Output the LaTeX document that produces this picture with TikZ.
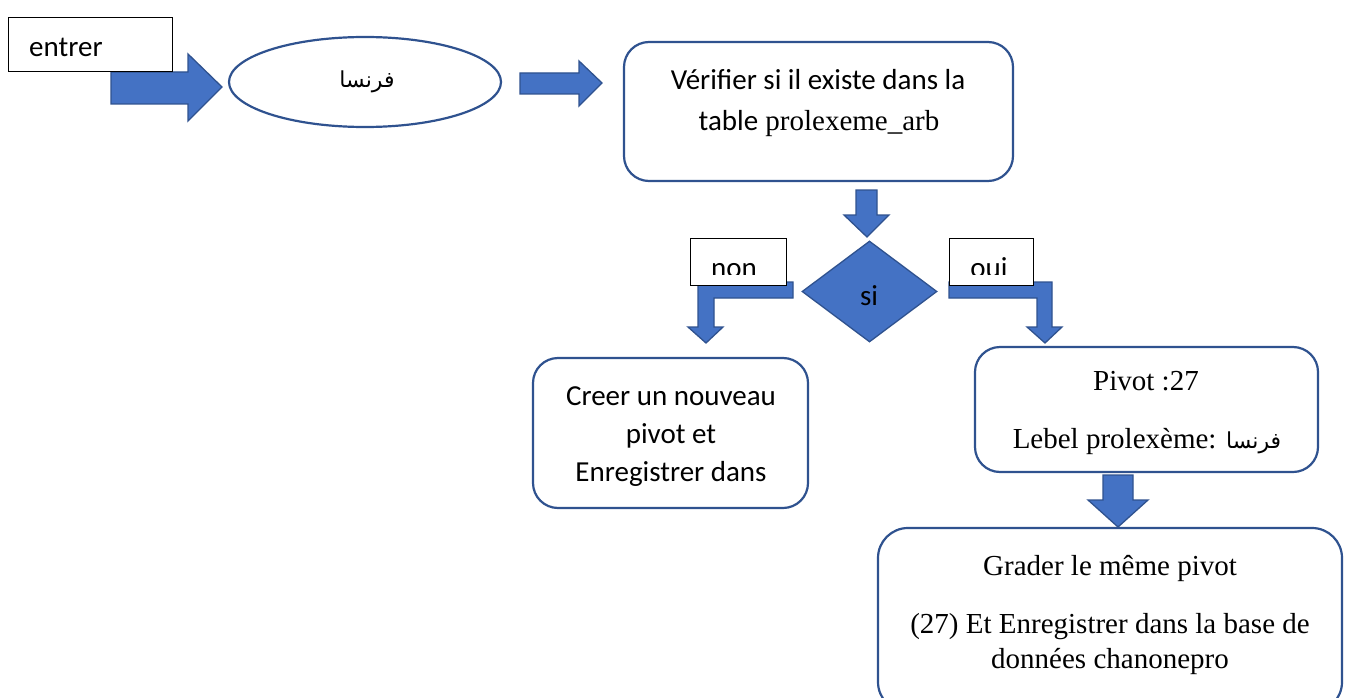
\documentclass[tikz,border=0pt]{standalone}
\usepackage{fontspec}
\setmainfont{Liberation Serif}
\newfontfamily\calib{Carlito}
\newfontfamily\arabicfont[Script=Arabic]{DejaVu Sans}
\TeXXeTstate=1
\usetikzlibrary{shapes.geometric}
\definecolor{fillblue}{HTML}{4472C4}
\definecolor{edgeblue}{HTML}{2F528F}

\begin{document}
\begin{tikzpicture}[x=1pt,y=-1pt,
  roundbox/.style={draw=edgeblue, line width=2.2pt, rounded corners=25pt, fill=white, inner sep=0pt},
  labelbox/.style={draw=black, line width=1pt, fill=white, inner sep=0pt},
  blockarrow/.style={fill=fillblue, draw=edgeblue, line width=1.3pt, line join=miter},
  sanstext/.style={font=\calib\fontsize{29}{35}\selectfont, inner sep=0pt, anchor=base},
  seriftext/.style={font=\fontsize{29}{35}\selectfont, inner sep=0pt, anchor=base},
  arabtext/.style={font=\arabicfont\fontsize{22}{26}\selectfont, inner sep=0pt, anchor=base},
]
\useasboundingbox (0,0) rectangle (1348,698);

% ---- input arrow and the "entrer" label
\draw[blockarrow] (111,72) -- (188,72) -- (188,54) -- (222,87) -- (188,121) -- (188,104) -- (111,104) -- cycle;
\node[labelbox, minimum width=164pt, minimum height=54pt] (entrer) at (90,45) {};
\node[sanstext, anchor=base west] (entrertxt) at (29,57) {entrer};

% ---- the word to look up
\node[ellipse, draw=edgeblue, line width=2.2pt, fill=white, minimum width=272pt, minimum height=90pt, inner sep=0pt] (word) at (365,82) {};
\node[arabtext] (wordtxt) at (367,88) {\beginR فرنسا\endR};

\draw[blockarrow] (520,73) -- (579,73) -- (579,61) -- (602,83) -- (579,106) -- (579,94) -- (520,94) -- cycle;

% ---- lookup step
\node[roundbox, minimum width=389pt, minimum height=139pt] (check) at (818.5,111.5) {};
\node[sanstext] (checkA) at (818,90) {Vérifier si il existe dans la};
\node[seriftext] (checkB) at (819,130) {{\calib table} prolexeme\_arb};

\draw[blockarrow] (856,190) -- (877,190) -- (877,215) -- (889,215) -- (867,237) -- (844,215) -- (856,215) -- cycle;

% ---- decision
\node[diamond, fill=fillblue, draw=edgeblue, line width=1.3pt, minimum width=135pt, minimum height=101pt, inner sep=0pt, aspect=1.34] (test) at (869.5,291.5) {};
\node[sanstext] (testtxt) at (869,305) {si};

% ---- "non" branch
\draw[blockarrow] (793,282) -- (698,282) -- (698,327) -- (688,327) -- (706,343) -- (723,327) -- (714,327) -- (714,298) -- (793,298) -- cycle;
\node[labelbox, minimum width=96pt, minimum height=47pt] (non) at (738.5,261.5) {};
\begin{scope}
  \clip (691,238) rectangle (786,274);
  \node[sanstext] (nontxt) at (734,277) {non};
\end{scope}

% ---- "oui" branch
\draw[blockarrow] (949,282) -- (1052,282) -- (1052,327) -- (1062,327) -- (1045,343) -- (1027,327) -- (1037,327) -- (1037,298) -- (949,298) -- cycle;
\node[labelbox, minimum width=84pt, minimum height=47pt] (oui) at (991,261.5) {};
\begin{scope}
  \clip (949,238) rectangle (1033,274);
  \node[sanstext] (ouitxt) at (989,277) {oui};
\end{scope}

% ---- new pivot
\node[roundbox, minimum width=275pt, minimum height=150pt] (create) at (670.5,433) {};
\node[sanstext] (createA) at (671,405) {Creer un nouveau};
\node[sanstext] (createB) at (671,443) {pivot et};
\node[sanstext] (createC) at (671,481) {Enregistrer dans};

% ---- existing pivot
\node[roundbox, minimum width=343pt, minimum height=125pt] (pivot) at (1146.5,409.5) {};
\node[seriftext] (pivotA) at (1146,390) {Pivot :27};
\node[seriftext] (pivotB) at (1147,448) {Lebel prolexème: {\arabicfont\fontsize{22}{26}\selectfont\beginR فرنسا\endR}};

\draw[blockarrow] (1103,475) -- (1133,475) -- (1133,500) -- (1148,500) -- (1118,527) -- (1088,500) -- (1103,500) -- cycle;

% ---- keep the pivot and save
\begin{scope}
  \clip (0,0) rectangle (1348,698);
  \node[roundbox, rounded corners=30pt, minimum width=464pt, minimum height=184pt] (keep) at (1110,620) {};
\end{scope}
\node[seriftext] (keepA) at (1110,575) {Grader le même pivot};
\node[seriftext] (keepB) at (1110,633) {(27) Et Enregistrer dans la base de};
\node[seriftext] (keepC) at (1110,668) {données chanonepro};
\end{tikzpicture}
\end{document}
